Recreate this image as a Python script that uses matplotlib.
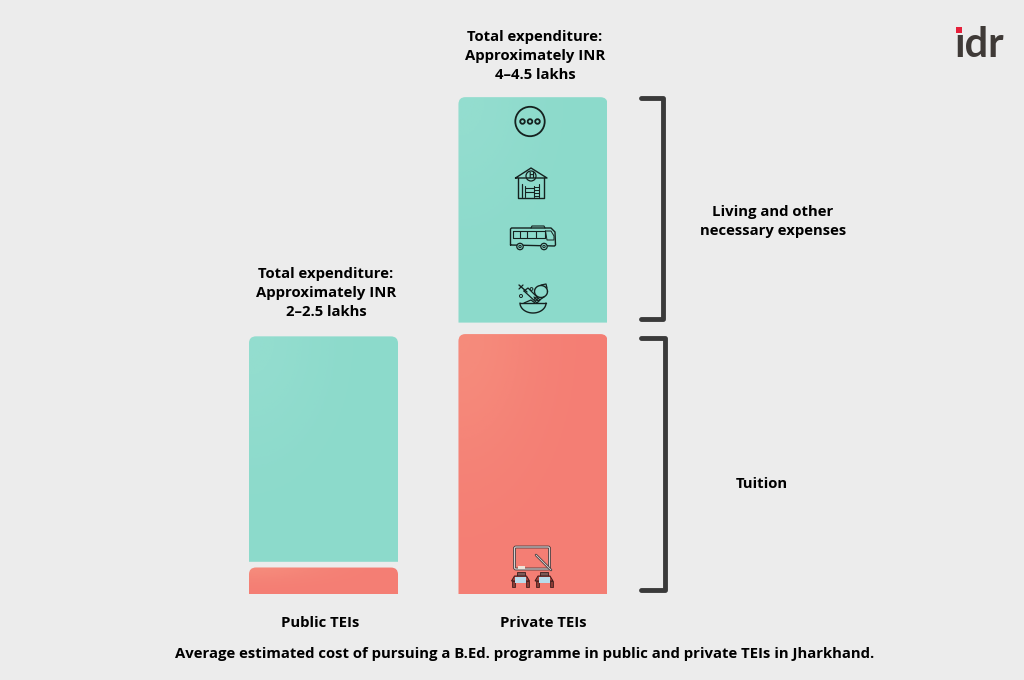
import numpy as np
import matplotlib
matplotlib.use('Agg')
import matplotlib.pyplot as plt
from matplotlib.path import Path
from matplotlib.patches import PathPatch, Circle, Rectangle, Polygon, FancyBboxPatch

# values in lakhs
groups = ['Public TEIs', 'Private TEIs']
tuition = [0.23, 2.26]
living = [1.96, 1.96]
gaps = [0.05, 0.10]
totals = ['Total expenditure:\nApproximately INR\n2\u20132.5 lakhs',
          'Total expenditure:\nApproximately INR\n4\u20134.5 lakhs']
caption = 'Average estimated cost of pursuing a B.Ed. programme in public and private TEIs in Jharkhand.'
bracketLabels = ['Living and other\nnecessary expenses', 'Tuition']

bg = '#ececec'
teal = '#8cdacb'
red = '#f47e74'
dark = '#3a3a3a'
plt.rcParams['font.family'] = ['Open Sans', 'DejaVu Sans']

fig = plt.figure(figsize=(10.24, 6.8), dpi=100, facecolor=bg)
# bar axes: x positions of the two bars, y in lakhs (1 lakh = 115 px)
ax = fig.add_axes([249 / 1024, (680 - 594) / 680, (607 - 249) / 1024, 575 / 680])
ax.axis('off')
xs = [0, 209.5]
bw = 149


def topRound(x, y0, w, h, col, light):
    rx = 7.0
    ry = 7.0 / 115
    y1 = y0 + h
    verts = [(x, y0), (x, y1 - ry), (x, y1), (x + rx, y1), (x + w - rx, y1),
             (x + w, y1), (x + w, y1 - ry), (x + w, y0), (x, y0)]
    codes = [Path.MOVETO, Path.LINETO, Path.CURVE3, Path.CURVE3, Path.LINETO,
             Path.CURVE3, Path.CURVE3, Path.LINETO, Path.CLOSEPOLY]
    patch = PathPatch(Path(verts, codes), fc=col, ec='none')
    ax.add_patch(patch)
    # soft lighter wash from the top left corner
    yy, xx = np.mgrid[0:1:60j, 0:1:60j]
    wash = np.exp(-((xx / 0.5) ** 2 + (yy / 0.5) ** 2))
    img = np.zeros((60, 60, 4))
    img[..., :3] = matplotlib.colors.to_rgb(light)
    img[..., 3] = wash * 0.28
    im = ax.imshow(img, extent=(x, x + w, y0, y1), origin='upper', aspect='auto', zorder=2)
    im.set_clip_path(patch)


for i in range(2):
    topRound(xs[i], 0, bw, tuition[i], red, '#fbae90')
    topRound(xs[i], tuition[i] + gaps[i], bw, living[i], teal, '#a8e6da')
ax.set_xlim(0, 358)
ax.set_ylim(0, 5.0)

# overlay in pixel coordinates for text, brackets and icons
ov = fig.add_axes([0, 0, 1, 1], facecolor='none')
ov.set_xlim(0, 1024)
ov.set_ylim(680, 0)
ov.axis('off')

fs = 10.75
txt = dict(ha='center', va='center', fontsize=fs, fontweight='bold', color='#000000', linespacing=1.47)
ov.text(326, 293, totals[0], **txt)
ov.text(535, 56, totals[1], **txt)
ov.text(320, 623, groups[0], **txt)
ov.text(543, 623, groups[1], **txt)
ov.text(525, 654, caption, **txt)
ov.text(773, 221.5, bracketLabels[0], **txt)
ov.text(762, 483.5, bracketLabels[1], **txt)


def bracket(x0, x1, y0, y1):
    ov.plot([x0, x1, x1, x0], [y0, y0, y1, y1], color=dark, lw=3.5,
            solid_capstyle='round', solid_joinstyle='round', zorder=5)


bracket(641, 663, 98, 319)
bracket(641, 665, 338, 590)

# logo
ov.text(979, 45, '\u0131dr', ha='center', va='center', fontsize=30, color='#3f3a37',
        fontfamily='Lato', fontweight='bold')
ov.add_patch(Rectangle((956, 26.5), 6, 6, fc='#e5203a', ec='none'))

# icons
ik = dict(color='#15211f', lw=1.0, solid_capstyle='round', zorder=6)


def line(xv, yv, **kw):
    d = dict(ik)
    d.update(kw)
    ov.plot(xv, yv, **d)


def ring(x, y, r, lw=1.0, fc='none'):
    ov.add_patch(Circle((x, y), r, fc=fc, ec='#15211f', lw=lw, zorder=6))


# more
ring(530, 121.5, 14.7, 1.3)
for dx in [-7.5, 0, 7.5]:
    ring(530 + dx, 121.5, 2.3, 1.3)

# hostel
line([515.5, 531, 547, 515.5], [178, 168, 178, 178])
line([518, 518, 544, 544], [178, 197.5, 197.5, 178])
ring(531, 176, 5, 0.9)
ov.text(531, 176, 'H', ha='center', va='center', fontsize=5.5, color='#15211f', zorder=7, fontweight='bold')
line([522, 522], [184, 197], lw=0.9)
line([524.5, 524.5], [186, 197], lw=0.8)
line([524.5, 534], [188, 188], lw=0.8)
line([524.5, 534], [191.5, 191.5], lw=0.8)
line([534, 534], [186, 197], lw=0.8)
line([539, 539], [184, 197], lw=0.8)
for yy in [187, 190, 193, 196]:
    line([534, 539], [yy, yy], lw=0.7)

# bus
line([510.5, 510.5, 511.5, 551, 555, 555.5, 554.5, 510.5], [245, 229, 228, 228, 232, 245, 246, 245], lw=1.0)
line([512.5, 545, 545, 512.5, 512.5], [231, 231, 237.5, 237.5, 231], lw=0.8)
for xx in [519.5, 527, 536]:
    line([xx, xx], [231, 237.5], lw=0.8)
line([531, 532, 544, 545], [228, 226, 226, 228], lw=0.8)
line([545.5, 551, 554, 554, 547, 545.5], [231, 231, 236, 240, 240, 231], lw=0.7)
for bx in [520, 544]:
    ring(bx, 246.5, 3.2, 0.9, fc=teal)
    ring(bx, 246.5, 1.2, 0.7)

# food
th = np.linspace(0, np.pi, 30)
line(533 + 13 * np.cos(th), 303 + 10 * np.sin(th), lw=1.0)
line([520, 546], [303, 303], lw=1.0)
line([524, 537, 540, 528, 524], [291, 303, 300, 288, 291], lw=0.9)
line([519, 527], [285, 292], lw=1.0)
line([519, 523], [289, 285], lw=0.9)
ap = np.linspace(0, 2 * np.pi, 40)
line(541 + 6.5 * np.cos(ap), 291.5 + 6 * np.sin(ap), lw=1.0)
line([541, 546, 547], [285, 284, 288], lw=0.9)
line([534, 538, 544], [297, 301, 297], lw=0.9)
ring(531.5, 289, 1.4, 0.7)
ring(521, 296, 1.5, 0.7)
ring(536, 299, 1.4, 0.7)
line([524, 531, 535], [303, 300, 303], lw=0.9)

# classroom
board = FancyBboxPatch((514.5, 547), 35, 22, boxstyle='round,pad=0,rounding_size=1.5',
                       fc='none', ec='#3f3537', lw=2.0, zorder=6)
ov.add_patch(board)
ov.add_patch(FancyBboxPatch((514.5, 547), 35, 22, boxstyle='round,pad=0,rounding_size=1.5',
                            fc='none', ec='#d6cfcf', lw=0.9, zorder=6))
line([536, 551], [555, 570], color='#3f3537', lw=1.8)
line([536, 551], [555, 570], color='#d6cfcf', lw=0.7)
ov.add_patch(Rectangle((518, 565.5), 7, 3, fc='#efe3d8', ec='none', zorder=7))
for cx in [520.5, 544]:
    # chair back, desk top with its blue front, and legs
    ov.add_patch(Rectangle((cx - 4, 572), 8, 5, fc='#7b5a58', ec='#3a2020', lw=0.6, zorder=6))
    ov.add_patch(Polygon([(cx - 6, 576), (cx + 6, 576), (cx + 9, 581), (cx - 9, 581)],
                         fc='#a8433d', ec='#3a1a1a', lw=0.7, zorder=6))
    ov.add_patch(Rectangle((cx - 5.5, 577), 11, 5.5, fc='#b9dcec', ec='none', zorder=7))
    ov.add_patch(Rectangle((cx - 8.5, 581), 3, 5.5, fc='#8c3a34', ec='#2b1414', lw=0.5, zorder=6))
    ov.add_patch(Rectangle((cx + 5.5, 581), 3, 5.5, fc='#8c3a34', ec='#2b1414', lw=0.5, zorder=6))

fig.savefig('out.png', dpi=100, facecolor=bg)
